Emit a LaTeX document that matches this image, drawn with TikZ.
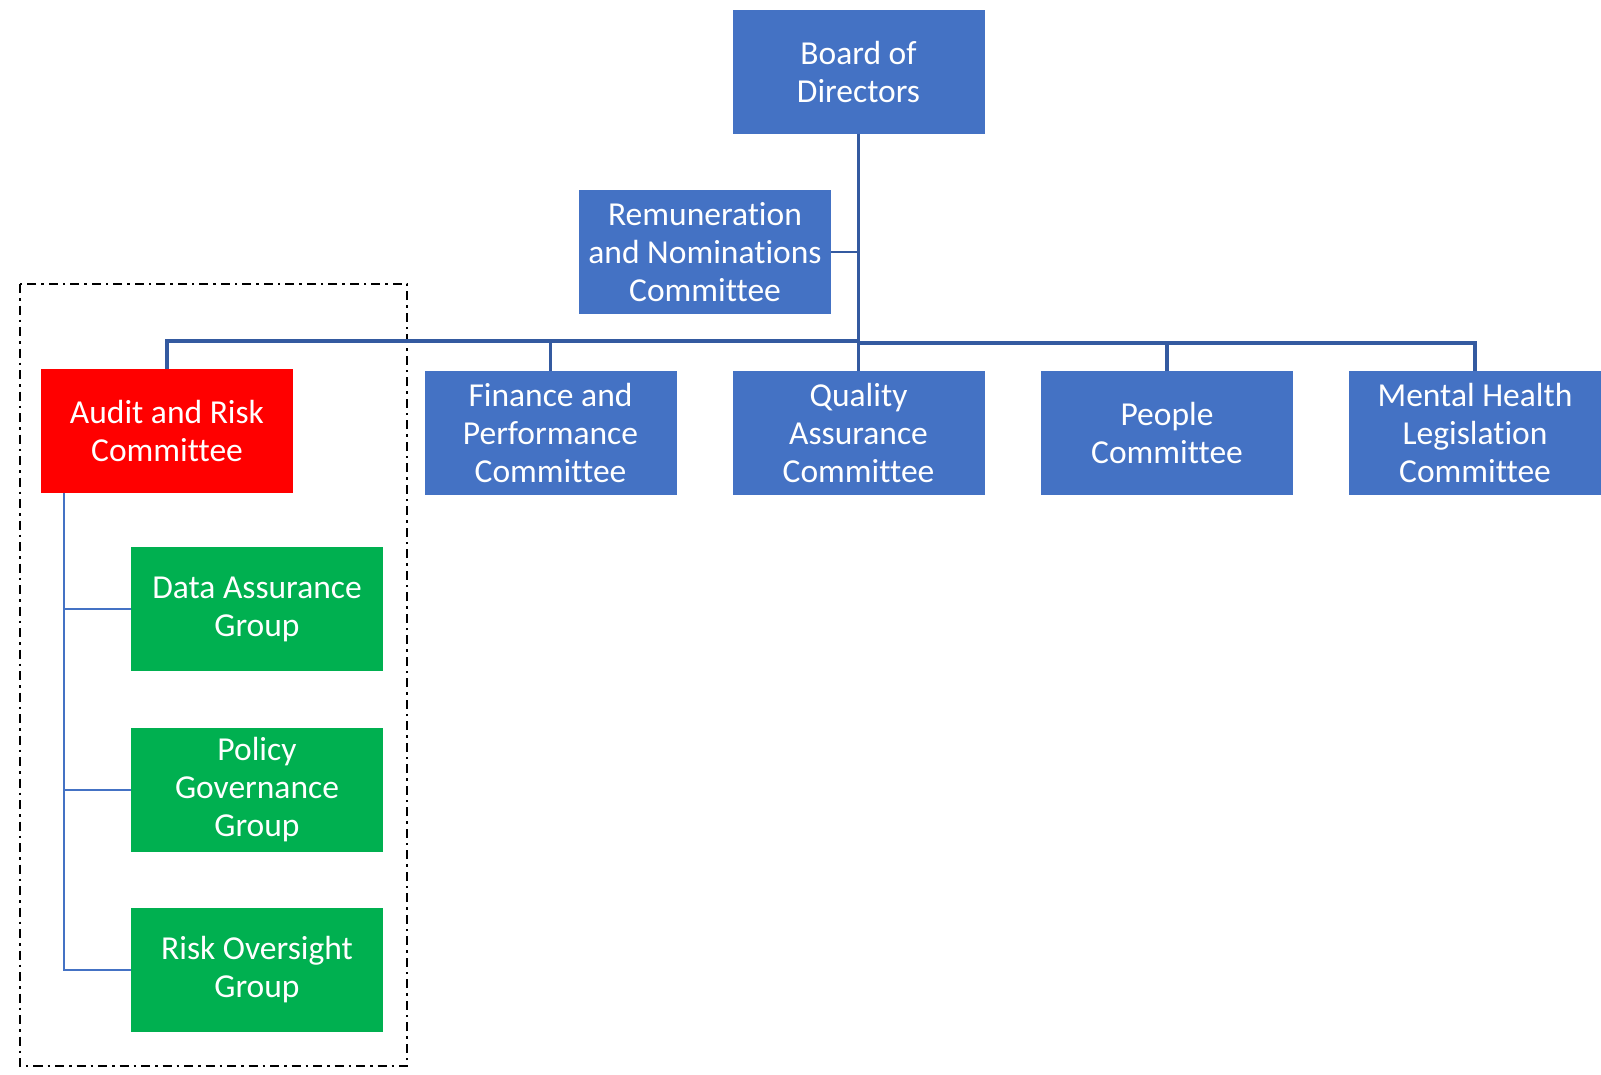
\documentclass[tikz,border=0pt]{standalone}
\usepackage{fontspec}
\setmainfont[Ligatures={NoCommon}]{Carlito}
\definecolor{boxblue}{RGB}{68,114,196}
\definecolor{boxred}{RGB}{255,0,0}
\definecolor{boxgreen}{RGB}{0,176,80}
\definecolor{linkblue}{RGB}{52,90,160}
\begin{document}
\begin{tikzpicture}[x=1pt,y=-1pt,
  orgbox/.style={rectangle, draw=none, minimum width=252pt, minimum height=124pt,
    inner sep=0pt, align=center, text=white, font=\fontsize{33.5}{38}\selectfont},
  bluebox/.style={orgbox, fill=boxblue},
  redbox/.style={orgbox, fill=boxred},
  greenbox/.style={orgbox, fill=boxgreen},
  conn/.style={draw=linkblue, line width=3.2pt},
  subconn/.style={draw=boxblue, line width=2.6pt},
  groupframe/.style={draw=black, line width=2.6pt, dash pattern=on 9pt off 5pt on 2.5pt off 5pt}]
\useasboundingbox (0,0) rectangle (1601,1074);
% frame around audit group
\draw[groupframe] (20,284) rectangle (407,1066);
% nodes
\node[bluebox] (board) at (858.5,71.5) {Board of\\Directors};
\node[bluebox] (remun) at (705,252) {Remuneration\\and Nominations\\Committee};
\node[redbox] (audit) at (167,431) {Audit and Risk\\Committee};
\node[bluebox] (finance) at (550.5,433) {Finance and\\Performance\\Committee};
\node[bluebox] (quality) at (858.5,433) {Quality\\Assurance\\Committee};
\node[bluebox] (people) at (1167,433) {People\\Committee};
\node[bluebox] (mhl) at (1475,433) {Mental Health\\Legislation\\Committee};
\node[greenbox] (data) at (257,609) {Data Assurance\\Group};
\node[greenbox] (policy) at (257,790) {Policy\\Governance\\Group};
\node[greenbox] (risk) at (257,970) {Risk Oversight\\Group};
% main connectors
\coordinate (busL) at (858.5,341);
\coordinate (busR) at (858.5,343);
\draw[conn] (board.south) -- (quality.north);
\draw[conn, line width=2.6pt] (remun.east) -- (remun.east -| board.south);
\draw[conn] (audit.north) |- (busL);
\draw[conn] (finance.north) -- (finance.north |- busL);
\draw[conn] (mhl.north) |- (busR);
\draw[conn] (people.north) -- (people.north |- busR);
% audit sub-connectors
\coordinate (stem) at (64,493);
\draw[subconn] (stem) |- (risk.west);
\draw[subconn] (stem |- data.west) -- (data.west);
\draw[subconn] (stem |- policy.west) -- (policy.west);
\end{tikzpicture}
\end{document}
